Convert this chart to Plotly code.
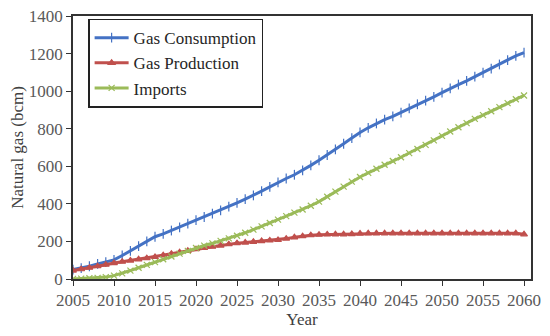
import plotly.graph_objects as go

years = list(range(2005, 2061))
consumption = [50, 58, 68, 80, 90, 102, 125, 150, 175, 200, 225, 240, 258, 275, 295, 313, 330, 348, 365, 385,
               405, 425, 445, 468, 490, 514, 535, 555, 578, 605, 632, 660, 690, 720, 750, 780, 805, 828, 848, 866,
               886, 908, 930, 950, 970, 992, 1015, 1035, 1055, 1077, 1098, 1120, 1142, 1165, 1188, 1205]
production = [45, 52, 60, 68, 76, 85, 92, 98, 105, 111, 117, 126, 134, 142, 150, 159, 166, 172, 178, 185,
              191, 194, 198, 202, 205, 208, 215, 222, 228, 233, 236, 237, 238, 238, 239, 242, 243, 243, 243, 243,
              243, 243, 243, 243, 243, 243, 243, 243, 243, 243, 243, 243, 243, 243, 243, 238]
imports = [0, 2, 4, 6, 10, 18, 30, 45, 60, 75, 90, 105, 120, 135, 150, 165, 178, 190, 203, 216,
           230, 246, 263, 280, 298, 316, 335, 353, 370, 390, 412, 438, 465, 492, 518, 543, 565, 587, 608, 628,
           648, 670, 692, 714, 738, 762, 785, 808, 830, 852, 872, 893, 915, 936, 957, 977]
x_ticks = list(range(2005, 2061, 5))
y_ticks = list(range(0, 1401, 200))

series = [
    ("Gas Consumption", consumption, "#4472C4", "line-ns-open", 7),
    ("Gas Production", production, "#C0504D", "triangle-up", 6),
    ("Imports", imports, "#9BBB59", "x-thin-open", 6),
]

fig = go.Figure()
for name, vals, color, sym, size in series:
    fig.add_trace(go.Scatter(
        x=years, y=vals, name=name, mode="lines+markers",
        line=dict(color=color, width=3),
        marker=dict(symbol=sym, size=size, color=color, line=dict(color=color, width=1.2)),
    ))

font_family = "Liberation Serif, Times New Roman, serif"
fig.update_layout(
    width=542, height=328,
    margin=dict(l=65, r=19, t=8, b=57),
    paper_bgcolor="white", plot_bgcolor="white",
    font=dict(family=font_family, size=17, color="#595959"),
    showlegend=True,
    legend=dict(
        x=0.033, y=0.99, xanchor="left", yanchor="top",
        bgcolor="white", bordercolor="#222222", borderwidth=1.5,
        font=dict(family=font_family, size=17, color="#262626"),
        tracegroupgap=0, itemwidth=34,
    ),
    xaxis=dict(
        range=[2005, 2060.85], tickvals=x_ticks, ticks="outside", ticklen=5,
        tickcolor="#333333", showline=True, linecolor="#333333", linewidth=1.5,
        mirror=True, showgrid=False, zeroline=False, automargin=False,
        ticklabeloverflow="allow",
        title=dict(text="Year", font=dict(size=17, color="#404040"), standoff=4),
        tickfont=dict(size=17, color="#595959"),
    ),
    yaxis=dict(
        range=[0, 1400], tickvals=y_ticks, ticks="outside", ticklen=5,
        tickcolor="#333333", showline=True, linecolor="#333333", linewidth=1.5,
        mirror=True, showgrid=False, zeroline=False, automargin=False,
        ticklabeloverflow="allow",
        title=dict(text="Natural gas (bcm)", font=dict(size=17, color="#404040"), standoff=6),
        tickfont=dict(size=17, color="#595959"),
    ),
)

fig.write_html("out.html")
